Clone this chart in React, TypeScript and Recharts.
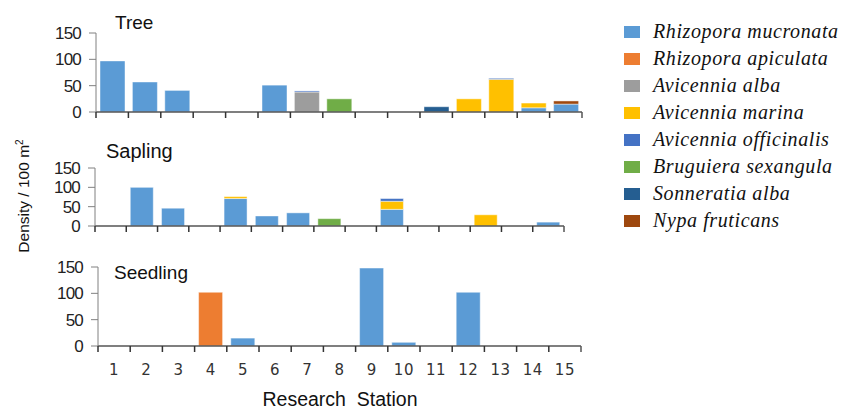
import React from 'react';
import { BarChart, Bar, XAxis, YAxis } from 'recharts';

const stations = ['1', '2', '3', '4', '5', '6', '7', '8', '9', '10', '11', '12', '13', '14', '15'];

const speciesKeys = ['mucronata', 'apiculata', 'alba', 'marina', 'officinalis', 'bruguiera', 'sonneratia', 'nypa'];
const speciesNames = [
  'Rhizopora mucronata',
  'Rhizopora apiculata',
  'Avicennia alba',
  'Avicennia marina',
  'Avicennia officinalis',
  'Bruguiera sexangula',
  'Sonneratia alba',
  'Nypa fruticans',
];
const speciesColors = ['#5B9BD5', '#ED7D31', '#9D9D9D', '#FFC000', '#4472C4', '#70AD47', '#255E91', '#9E480E'];

const yTicks = [0, 50, 100, 150];

// Tree density per station
const treeMucronata = [97, 57, 41, 0, 0, 51, 0, 0, 0, 0, 0, 0, 0, 8, 15];
const treeApiculata = [0, 0, 0, 0, 0, 0, 0, 0, 0, 0, 0, 0, 0, 0, 0];
const treeAlba = [0, 0, 0, 0, 0, 0, 38, 0, 0, 0, 0, 0, 0, 0, 0];
const treeMarina = [0, 0, 0, 0, 0, 0, 0, 0, 0, 0, 0, 25, 62, 9, 0];
const treeOfficinalis = [0, 0, 0, 0, 0, 0, 2, 0, 0, 0, 0, 0, 2, 0, 0];
const treeBruguiera = [0, 0, 0, 0, 0, 0, 0, 25, 0, 0, 0, 0, 0, 0, 0];
const treeSonneratia = [0, 0, 0, 0, 0, 0, 0, 0, 0, 0, 10, 0, 0, 0, 0];
const treeNypa = [0, 0, 0, 0, 0, 0, 0, 0, 0, 0, 0, 0, 0, 0, 6];

// Sapling density per station
const saplingMucronata = [0, 100, 46, 0, 71, 26, 34, 0, 0, 43, 0, 0, 0, 0, 10];
const saplingApiculata = [0, 0, 0, 0, 0, 0, 0, 0, 0, 0, 0, 0, 0, 0, 0];
const saplingAlba = [0, 0, 0, 0, 0, 0, 0, 0, 0, 0, 0, 0, 0, 0, 0];
const saplingMarina = [0, 0, 0, 0, 5, 0, 0, 0, 0, 21, 0, 0, 29, 0, 0];
const saplingOfficinalis = [0, 0, 0, 0, 0, 0, 0, 0, 0, 7, 0, 0, 0, 0, 0];
const saplingBruguiera = [0, 0, 0, 0, 0, 0, 0, 19, 0, 0, 0, 0, 0, 0, 0];
const saplingSonneratia = [0, 0, 0, 0, 0, 0, 0, 0, 0, 0, 0, 0, 0, 0, 0];
const saplingNypa = [0, 0, 0, 0, 0, 0, 0, 0, 0, 0, 0, 0, 0, 0, 0];

// Seedling density per station
const seedlingMucronata = [0, 0, 0, 0, 15, 0, 0, 0, 148, 7, 0, 102, 0, 0, 0];
const seedlingApiculata = [0, 0, 0, 102, 0, 0, 0, 0, 0, 0, 0, 0, 0, 0, 0];
const seedlingAlba = [0, 0, 0, 0, 0, 0, 0, 0, 0, 0, 0, 0, 0, 0, 0];
const seedlingMarina = [0, 0, 0, 0, 0, 0, 0, 0, 0, 0, 0, 0, 0, 0, 0];
const seedlingOfficinalis = [0, 0, 0, 0, 0, 0, 0, 0, 0, 0, 0, 0, 0, 0, 0];
const seedlingBruguiera = [0, 0, 0, 0, 0, 0, 0, 0, 0, 0, 0, 0, 0, 0, 0];
const seedlingSonneratia = [0, 0, 0, 0, 0, 0, 0, 0, 0, 0, 0, 0, 0, 0, 0];
const seedlingNypa = [0, 0, 0, 0, 0, 0, 0, 0, 0, 0, 0, 0, 0, 0, 0];

function buildRows(series: number[][]) {
  return stations.map((station, i) => {
    const row: Record<string, any> = { station };
    speciesKeys.forEach((k, s) => {
      row[k] = series[s][i];
    });
    return row;
  });
}

const treeRows = buildRows([treeMucronata, treeApiculata, treeAlba, treeMarina, treeOfficinalis, treeBruguiera, treeSonneratia, treeNypa]);
const saplingRows = buildRows([saplingMucronata, saplingApiculata, saplingAlba, saplingMarina, saplingOfficinalis, saplingBruguiera, saplingSonneratia, saplingNypa]);
const seedlingRows = buildRows([seedlingMucronata, seedlingApiculata, seedlingAlba, seedlingMarina, seedlingOfficinalis, seedlingBruguiera, seedlingSonneratia, seedlingNypa]);

const FONT = '"Liberation Sans", Arial, sans-serif';

const panels = [
  { name: 'Tree', rows: treeRows, top: 0, height: 130, mTop: 33, yWidth: 96, right: 18, xHeight: 10, bottom: 8, barSize: 25, labels: false },
  { name: 'Sapling', rows: saplingRows, top: 130, height: 110, mTop: 38, yWidth: 95, right: 36, xHeight: 10, bottom: 4, barSize: 23, labels: false },
  { name: 'Seedling', rows: seedlingRows, top: 230, height: 180, mTop: 37, yWidth: 98, right: 19, xHeight: 30, bottom: 34, barSize: 24, labels: true },
];

const CHART_W = 600;

// ticks sit on the boundaries between stations, labels in the middle
function StationTick(props: any) {
  const { x, y, payload, index, band, showLabel } = props;
  const left = x - band / 2;
  const right = x + band / 2;
  return (
    <g>
      <line x1={left} x2={left} y1={y} y2={y + 6} stroke="#333" strokeWidth={1.5} />
      {index === stations.length - 1 && (
        <line x1={right} x2={right} y1={y} y2={y + 6} stroke="#555" strokeWidth={1.5} />
      )}
      {showLabel && (
        <text x={x} y={y + 29} textAnchor="middle" fontSize={15} fill="#333" letterSpacing={0.5} fontFamily='"DejaVu Sans", Verdana, sans-serif'>
          {payload.value}
        </text>
      )}
    </g>
  );
}

function Panel({ p }: { p: (typeof panels)[number] }) {
  const plotW = CHART_W - p.yWidth - p.right;
  const band = plotW / stations.length;
  return (
    <div style={{ position: 'absolute', left: 0, top: p.top, width: CHART_W, height: p.height }}>
      <BarChart
        width={CHART_W}
        height={p.height}
        data={p.rows}
        margin={{ top: p.mTop, right: p.right, left: 0, bottom: p.bottom }}
      >
        <XAxis
          dataKey="station"
          height={p.xHeight}
          interval={0}
          tickSize={0}
          tickMargin={0}
          tickLine={false}
          axisLine={{ stroke: '#555', strokeWidth: 1.5 }}
          tick={(t: any) => <StationTick {...t} band={band} showLabel={p.labels} />}
        />
        <YAxis
          width={p.yWidth}
          domain={[0, 150]}
          ticks={yTicks}
          interval={0}
          tickSize={7}
          tickMargin={8}
          axisLine={{ stroke: '#808080' }}
          tickLine={{ stroke: '#808080' }}
          tick={{ fontSize: 17, fill: '#222', fontFamily: FONT, letterSpacing: -0.8 }}
        />
        {speciesKeys.map((k, i) => (
          <Bar
            key={k}
            dataKey={k}
            stackId="a"
            fill={speciesColors[i]}
            barSize={p.barSize}
            stroke="rgba(255,255,255,0.45)"
            strokeWidth={1}
            isAnimationActive={false}
          />
        ))}
      </BarChart>
    </div>
  );
}

export default function App() {
  return (
    <div style={{ position: 'absolute', left: 0, top: 0, width: 852, height: 410, background: '#fff', overflow: 'hidden' }}>
      {panels.map((p) => (
        <Panel key={p.name} p={p} />
      ))}
      <svg width={852} height={410} style={{ position: 'absolute', left: 0, top: 0, pointerEvents: 'none' }}>
        <g fontFamily={FONT} fill="#111">
          <text x={115} y={29} fontSize={19}>Tree</text>
          <text x={106} y={158} fontSize={20}>Sapling</text>
          <text x={114} y={279} fontSize={19}>Seedling</text>
          <text x={340} y={406} fontSize={19.5} textAnchor="middle" style={{ whiteSpace: 'pre' }}>
            {'Research\u00a0\u00a0Station'}
          </text>
          <text transform="translate(29,196) rotate(-90)" fontSize={15.5} textAnchor="middle">
            Density / 100 m<tspan dy={-6} fontSize={10}>2</tspan>
          </text>
        </g>
        {speciesNames.map((name, i) => {
          const cy = 32 + i * 27;
          return (
            <g key={name}>
              <rect x={624} y={cy - 6} width={16} height={12} fill={speciesColors[i]} />
              <text
                x={653}
                y={cy + 6}
                fontSize={20}
                letterSpacing={0.6}
                fontStyle="italic"
                fontFamily='"Liberation Serif", "Times New Roman", serif'
                fill="#111"
              >
                {name}
              </text>
            </g>
          );
        })}
      </svg>
    </div>
  );
}
